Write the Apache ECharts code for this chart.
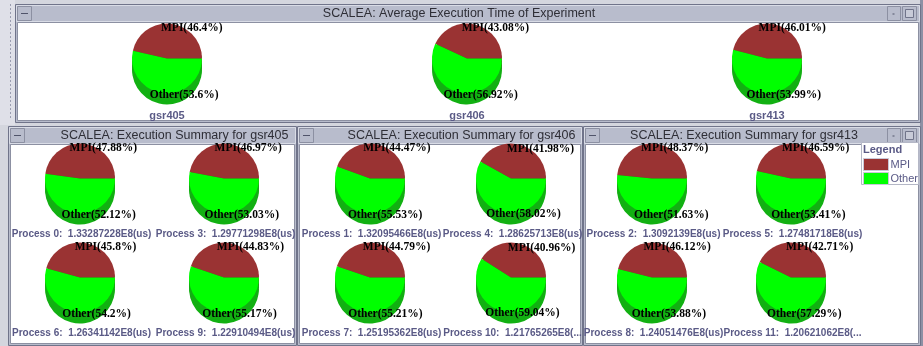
<!DOCTYPE html>
<html><head><meta charset="utf-8">
<script src="https://cdn.jsdelivr.net/npm/echarts@6/dist/echarts.min.js"></script>
<style>html,body{margin:0;padding:0;background:#d4d6de}#c{width:923px;height:346px}</style>
</head><body><div id="c"></div><script>
// ---- data ----
const sliceNames = ['MPI', 'Other'];
const topNames = ['gsr405', 'gsr406', 'gsr413'];
const topMPI = [46.4, 43.08, 46.01];
const topOther = [53.6, 56.92, 53.99];
const panelNames = ['gsr405', 'gsr406', 'gsr413'];
const processIds = [[0, 3, 6, 9], [1, 4, 7, 10], [2, 5, 8, 11]];
const processMPI = [[47.88, 46.97, 45.8, 44.83], [44.47, 41.98, 44.79, 40.96], [48.37, 46.59, 46.12, 42.71]];
const processOther = [[52.12, 53.03, 54.2, 55.17], [55.53, 58.02, 55.21, 59.04], [51.63, 53.41, 53.88, 57.29]];
const processTime = [
  ['1.33287228E8(us)', '1.29771298E8(us)', '1.26341142E8(us)', '1.22910494E8(us)'],
  ['1.32095466E8(us)', '1.28625713E8(us)', '1.25195362E8(us)', '1.21765265E8(...'],
  ['1.3092139E8(us)', '1.27481718E8(us)', '1.24051476E8(us)', '1.20621062E8(...']
];

// ---- layout / style ----
const R = 35, DEPTH = 11;
const COL = { MPI: '#9a3333', Other: '#00ff00' };
const DARK = { MPI: '#6a2222', Other: '#12b012' };
const slate = '#5a5a86';
const topCx = [167, 467, 767], topCy = 58.5;
const panelX = [[80, 224], [370, 511], [652, 791]];
const rowCy = [178.5, 277.5];
const procLabelY = [234, 333];

const series = [];
const els = [];

function addPie(cx, cy, mpi, other) {
  const vals = [mpi, other];
  const mk = (pal) => sliceNames.map((n, i) => ({ name: n, value: vals[i], itemStyle: { color: pal[n] } }));
  const base = { type: 'pie', startAngle: 0, clockwise: false, silent: true, animation: false,
    labelLine: { show: false }, emphasis: { disabled: true }, avoidLabelOverlap: false };
  series.push(Object.assign({}, base, { center: [cx, cy], radius: R, z: 3, data: mk(COL), label: { show: false } }));
  for (const off of [DEPTH, 8, 4]) {
    series.push(Object.assign({}, base, { center: [cx, cy + off], radius: R, z: 2, data: mk(DARK), label: { show: false } }));
  }
  series.push(Object.assign({}, base, {
    center: [cx, cy], radius: [R - 7, R - 1], z: 4,
    data: sliceNames.map((n, i) => ({ name: n, value: vals[i], itemStyle: { color: 'rgba(0,0,0,0)' } })),
    label: { show: true, position: 'inside', formatter: '{b}({c}%)', offset: [21, 3],
      color: '#000', fontFamily: 'Liberation Serif', fontWeight: 'bold', fontSize: 11.5 }
  }));
}

function text(x, y, t, style) {
  els.push({ type: 'text', x: x, y: y, z: 10, style: Object.assign({ text: t, align: 'center', verticalAlign: 'middle' }, style) });
}

function win(x, y, w, h, title, titleCx, rightBtns) {
  els.push({ type: 'rect', z: 0, shape: { x: x + 0.5, y: y + 0.5, width: w - 1, height: h - 1 }, style: { fill: '#b8bccc', stroke: '#70748a', lineWidth: 1 } });
  els.push({ type: 'rect', z: 0, shape: { x: x + 1.5, y: y + 1.5, width: w - 3, height: 16 }, style: { fill: '#b8bccc', stroke: '#d9dce6', lineWidth: 1 } });
  els.push({ type: 'rect', z: 0, shape: { x: x + 2.5, y: y + 18.5, width: w - 5, height: h - 21 }, style: { fill: '#ffffff', stroke: '#8c90a2', lineWidth: 1 } });
  els.push({ type: 'rect', z: 1, shape: { x: x + 2.5, y: y + 2.5, width: 14, height: 14 }, style: { fill: '#b8bccc', stroke: '#8c90a2', lineWidth: 1 } });
  els.push({ type: 'line', z: 1, shape: { x1: x + 6, y1: y + 9.5, x2: x + 13, y2: y + 9.5 }, style: { stroke: '#50546a', lineWidth: 1 } });
  if (rightBtns) {
    const rx = x + w - 3;
    els.push({ type: 'rect', z: 1, shape: { x: rx - 30.5, y: y + 2.5, width: 13, height: 14 }, style: { fill: '#b8bccc', stroke: '#8c90a2' } });
    els.push({ type: 'rect', z: 1, shape: { x: rx - 25.5, y: y + 9.5, width: 2, height: 1 }, style: { fill: '#50546a' } });
    els.push({ type: 'rect', z: 1, shape: { x: rx - 15.5, y: y + 2.5, width: 14, height: 14 }, style: { fill: '#b8bccc', stroke: '#8c90a2' } });
    els.push({ type: 'rect', z: 1, shape: { x: rx - 12.5, y: y + 5.5, width: 8, height: 8 }, style: { fill: '#c8cbd8', stroke: '#70748a' } });
  }
  text(titleCx, y + 10, title, { fill: '#2e2e36', font: '12.5px "Liberation Sans"' });
}

// left strip
els.push({ type: 'rect', z: 0, shape: { x: 0, y: 0, width: 15, height: 125 }, style: { fill: '#dfe0e8' } });
els.push({ type: 'line', z: 0, shape: { x1: 10.5, y1: 4, x2: 10.5, y2: 120 }, style: { stroke: '#9a9db0', lineDash: [2, 2] } });
els.push({ type: 'rect', z: 0, shape: { x: 920, y: 0, width: 3, height: 346 }, style: { fill: '#8d90a4' } });

// windows
win(15, 4, 906, 119, 'SCALEA: Average Execution Time of Experiment', 459, true);
const panelRect = [[8, 289], [297, 286], [583, 338]];
const panelTitleCx = [174.5, 461.5, 744];
for (let p = 0; p < 3; p++) {
  win(panelRect[p][0], 126, panelRect[p][1], 220, 'SCALEA: Execution Summary for ' + panelNames[p], panelTitleCx[p], p === 2);
}

// top pies
for (let i = 0; i < 3; i++) {
  addPie(topCx[i], topCy, topMPI[i], topOther[i]);
  text(topCx[i], 116, topNames[i], { fill: slate, font: 'bold 11px "Liberation Sans"' });
}
// panel pies
for (let p = 0; p < 3; p++) {
  for (let k = 0; k < 4; k++) {
    const row = Math.floor(k / 2), col = k % 2;
    const cx = panelX[p][col], cy = rowCy[row];
    addPie(cx, cy, processMPI[p][k], processOther[p][k]);
    text(cx + 1.5, procLabelY[row], 'Process ' + processIds[p][k] + ':  ' + processTime[p][k], { fill: slate, font: 'bold 10px "Liberation Sans"' });
  }
}

// legend frame
els.push({ type: 'rect', z: 5, shape: { x: 861.5, y: 142.5, width: 57, height: 42 }, style: { fill: '#fff', stroke: '#b4b7c6' } });
els.push({ type: 'text', z: 10, x: 863, y: 150, style: { text: 'Legend', fill: slate, font: 'bold 11px "Liberation Sans"', align: 'left', verticalAlign: 'middle' } });

const chart = echarts.init(document.getElementById('c'), null, { renderer: 'canvas' });
chart.setOption({
  backgroundColor: '#d4d6de',
  animation: false,
  legend: {
    orient: 'vertical', left: 863, top: 158, padding: 0, itemGap: 1, itemWidth: 25, itemHeight: 12,
    icon: 'rect', selectedMode: false, z: 8,
    data: sliceNames.map(n => ({ name: n, itemStyle: { color: COL[n], borderColor: '#c8c8d8', borderWidth: 1 } })),
    textStyle: { color: slate, fontFamily: 'Liberation Sans', fontWeight: 'normal', fontSize: 11, padding: [0, 0, 0, -3] }
  },
  graphic: { elements: els },
  series: series
});
</script></body></html>
